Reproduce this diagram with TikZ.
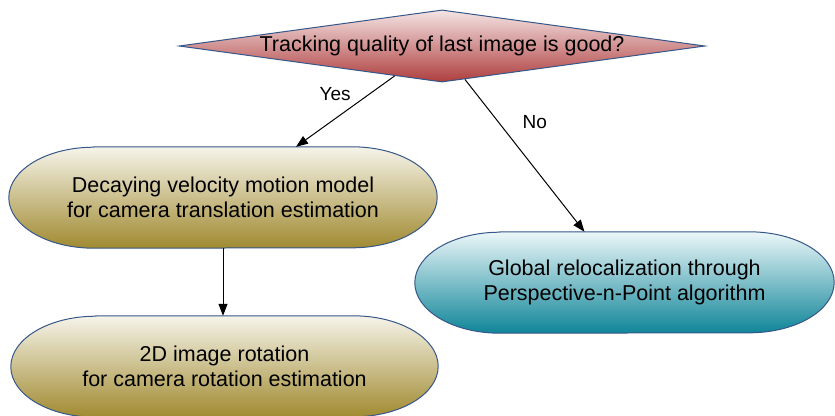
\documentclass[tikz,border=0pt]{standalone}
\usepackage{fontspec}
\setmainfont{Liberation Sans}
\usetikzlibrary{shapes.geometric,arrows.meta,calc,backgrounds}
\definecolor{edge}{HTML}{36578A}
\definecolor{redtop}{HTML}{F5E4E4}
\definecolor{redbot}{HTML}{AE3E3E}
\definecolor{olvtop}{HTML}{F6F4EA}
\definecolor{olvbot}{HTML}{A08A30}
\definecolor{teltop}{HTML}{ECF7F9}
\definecolor{telbot}{HTML}{0F8598}
\tikzset{
  decision/.style={diamond, draw=edge, line width=1pt, inner sep=0pt, aspect=7,
    minimum width=526pt, minimum height=72pt, top color=redtop, bottom color=redbot,
    font=\fontsize{21.5}{25}\selectfont},
  pill/.style={rectangle, minimum height=101pt, align=center,
    font=\fontsize{21.5}{25}\selectfont},
  pillshape/.style={draw=edge, line width=1pt},
  olive/.style={top color=olvtop, bottom color=olvbot},
  teal/.style={top color=teltop, bottom color=telbot},
  conn/.style={line width=1pt, -{Triangle[length=12pt,width=9pt]}},
  lbl/.style={font=\fontsize{19}{22}\selectfont}
}
\newcommand{\pillpath}[3]{%
  \path[pillshape,#2] ([xshift=#3]#1.north west) -- ([xshift=-#3]#1.north east)
    arc[start angle=90, end angle=-90, x radius=#3, y radius=50.5pt]
    -- ([xshift=#3]#1.south west)
    arc[start angle=270, end angle=90, x radius=#3, y radius=50.5pt] -- cycle;}
\begin{document}
\begin{tikzpicture}[x=1pt,y=-1pt]
\useasboundingbox (0,0) rectangle (835,415);
\node[decision] (dia) at (442,46) {Tracking quality of last image is good?};
\node[pill, minimum width=428pt] (b1) at (223,197.5)
  {Decaying velocity motion model\\for camera translation estimation};
\node[pill, minimum width=419pt] (b2) at (624.5,282.5)
  {Global relocalization through\\Perspective-n-Point algorithm};
\node[pill, minimum width=427pt] (b3) at (224.5,366.5)
  {2D image rotation\\for camera rotation estimation};
\begin{scope}[on background layer]
  \pillpath{b1}{olive}{85pt}
  \pillpath{b2}{teal}{85pt}
  \pillpath{b3}{olive}{85pt}
\end{scope}
\draw[conn] ($(dia.south)!0.18!(dia.west)$) -- ([xshift=73pt]b1.north)
  node[lbl, pos=0.4, xshift=-20pt, yshift=10pt] {Yes};
\draw[conn] ($(dia.south)!0.087!(dia.east)$) -- ([xshift=-40pt]b2.north)
  node[lbl, pos=0.3, xshift=34pt, yshift=3pt] {No};
\draw[conn] (b1.south) -- (b1.south |- b3.north);
\end{tikzpicture}
\end{document}
